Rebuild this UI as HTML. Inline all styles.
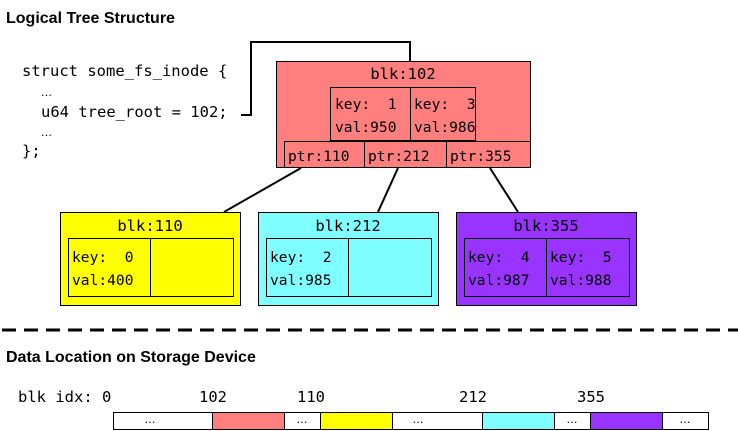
<!DOCTYPE html>
<html><head><meta charset="utf-8"><style>
html,body{margin:0;padding:0;background:#fff;width:738px;height:431px;overflow:hidden}
text{font-family:"DejaVu Sans Mono","Liberation Mono",monospace;font-size:15.5px;fill:#000;white-space:pre}
.k{font-size:14.6px}
.t{font-family:"Liberation Sans",sans-serif;font-weight:bold;font-size:16px}
.s{font-family:"DejaVu Sans",sans-serif;font-size:11px}
</style></head><body>
<svg width="738" height="431" xmlns="http://www.w3.org/2000/svg" xml:space="preserve">
<text class="t" x="6" y="23">Logical Tree Structure</text>
<text x="22" y="76">struct some_fs_inode {</text>
<text x="41" y="96" class="s">…</text>
<text x="41" y="117">u64 tree_root = 102;</text>
<text x="41" y="136" class="s">…</text>
<text x="22" y="156">};</text>
<polyline points="241,115 251,115 251,42 410,42 410,61" fill="none" stroke="#000" stroke-width="2"/>
<g stroke="#000" stroke-width="1">
<rect x="276.5" y="61.5" width="254" height="106" fill="#ff7f7f"/>
<rect x="330.5" y="87.5" width="145" height="53" fill="#ff7f7f"/>
<line x1="410.5" y1="87" x2="410.5" y2="141"/>
<rect x="284.5" y="141.5" width="246" height="26" fill="#ff7f7f"/>
<line x1="364.5" y1="141" x2="364.5" y2="168"/>
<line x1="446.5" y1="141" x2="446.5" y2="168"/>
<g stroke-width="2">
<line x1="301" y1="168" x2="224" y2="212"/>
<line x1="398" y1="168" x2="378" y2="212"/>
<line x1="490" y1="168" x2="518" y2="212"/>
</g>
<rect x="60.5" y="212.5" width="180" height="93" fill="#ffff00"/>
<rect x="68.5" y="238.5" width="165" height="58" fill="#ffff00"/>
<line x1="150.5" y1="238" x2="150.5" y2="296"/>
<rect x="258.5" y="212.5" width="180" height="93" fill="#7fffff"/>
<rect x="266.5" y="238.5" width="165" height="58" fill="#7fffff"/>
<line x1="348.5" y1="238" x2="348.5" y2="296"/>
<rect x="456.5" y="212.5" width="180" height="93" fill="#9933ff"/>
<rect x="464.5" y="238.5" width="165" height="58" fill="#9933ff"/>
<line x1="546.5" y1="238" x2="546.5" y2="296"/>
</g>
<text x="403" y="79" text-anchor="middle">blk:102</text>
<g class="k">
<text class="k" x="335" y="109">key:  1</text><text class="k" x="335" y="132">val:950</text>
<text class="k" x="414" y="109">key:  3</text><text class="k" x="414" y="132">val:986</text>
<text class="k" x="288" y="161">ptr:110</text><text class="k" x="368" y="161">ptr:212</text><text class="k" x="450" y="161">ptr:355</text>
<text class="k" x="72" y="262">key:  0</text><text class="k" x="72" y="285">val:400</text>
<text class="k" x="270" y="262">key:  2</text><text class="k" x="270" y="285">val:985</text>
<text class="k" x="468" y="262">key:  4</text><text class="k" x="468" y="285">val:987</text>
<text class="k" x="550" y="262">key:  5</text><text class="k" x="550" y="285">val:988</text>
</g>
<text x="150" y="231" text-anchor="middle">blk:110</text>
<text x="348" y="231" text-anchor="middle">blk:212</text>
<text x="546" y="231" text-anchor="middle">blk:355</text>
<line x1="2" y1="330" x2="738" y2="330" stroke="#000" stroke-width="3" stroke-dasharray="14,8"/>
<text class="t" x="6" y="362">Data Location on Storage Device</text>
<text x="18" y="402">blk idx: 0</text>
<text x="199" y="402">102</text><text x="297" y="402">110</text><text x="459" y="402">212</text><text x="577" y="402">355</text>
<g stroke="#000" stroke-width="1">
<rect x="113.5" y="412.5" width="595" height="17" fill="#fff"/>
<rect x="212.5" y="412.5" width="72" height="17" fill="#ff7f7f"/>
<rect x="320.5" y="412.5" width="72" height="17" fill="#ffff00"/>
<rect x="482.5" y="412.5" width="72" height="17" fill="#7fffff"/>
<rect x="590.5" y="412.5" width="72" height="17" fill="#9933ff"/>
</g>
<text class="s" x="150" y="423" text-anchor="middle">…</text>
<text class="s" x="302" y="423" text-anchor="middle">…</text>
<text class="s" x="418" y="423" text-anchor="middle">…</text>
<text class="s" x="572" y="423" text-anchor="middle">…</text>
<text class="s" x="685" y="423" text-anchor="middle">…</text>
</svg>
</body></html>
